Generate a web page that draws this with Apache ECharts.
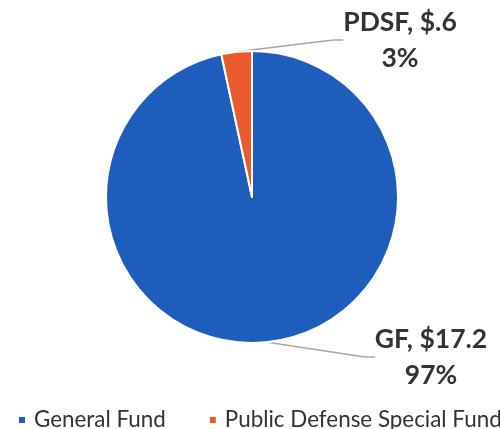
<!DOCTYPE html>
<html>
<head>
<meta charset="utf-8">
<script src="https://cdn.jsdelivr.net/npm/echarts@6/dist/echarts.min.js"></script>
<style>html,body{margin:0;padding:0;background:#fff}#c{width:500px;height:429px}</style>
</head>
<body>
<div id="c"></div>
<script>
var names = ['General Fund', 'Public Defense Special Fund'];
var shortNames = ['GF', 'PDSF'];
var valueLabels = ['$17.2', '$.6'];
var values = [17.2, 0.6];
var colors = ['#1d5dbb', '#eb5a2c'];

var labelPos = [[431, 357], [400, 40]];

var chart = echarts.init(document.getElementById('c'), null, {renderer: 'canvas'});
chart.setOption({
  animation: false,
  color: colors,
  legend: {
    left: 17, top: 409, padding: 0, width: 520, orient: 'horizontal',
    icon: 'rect', itemWidth: 8, itemHeight: 8, itemGap: 42,
    textStyle: {fontFamily: 'Lato', fontSize: 22.4, color: '#333', padding: [0, 0, 0, 3]},
    data: names
  },
  series: [{
    type: 'pie',
    center: [252, 197],
    radius: [0, 146],
    startAngle: 90,
    clockwise: true,
    percentPrecision: 0,
    itemStyle: {borderColor: '#fff', borderWidth: 2},
    label: {
      show: true,
      formatter: function (p) { return shortNames[p.dataIndex] + ', ' + valueLabels[p.dataIndex] + '\n' + Math.round(p.percent) + '%'; },
      fontFamily: 'Lato', fontWeight: 'bold', fontSize: 26.5, color: '#333',
      lineHeight: 36, align: 'center'
    },
    labelLine: {show: true, length: 10, length2: 10, lineStyle: {color: '#a6a6a6', width: 1.5}},
    labelLayout: function (params) {
      var p = labelPos[params.dataIndex];
      return {x: p[0], y: p[1], align: 'center', verticalAlign: 'middle'};
    },
    data: names.map(function (n, i) { return {name: n, value: values[i]}; })
  }]
});
</script>
</body>
</html>
